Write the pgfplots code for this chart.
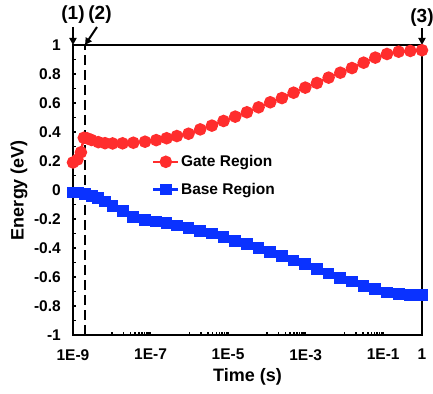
\documentclass[border=0pt]{standalone}
\usepackage{fontspec}
\setmainfont{Liberation Sans}
\usepackage{pgfplots}
\usepackage{pgfplotstable}
\pgfplotsset{compat=1.18}
\usetikzlibrary{arrows.meta}
\definecolor{gred}{RGB}{255,45,45}
\definecolor{bblue}{RGB}{10,50,255}

\pgfplotstableread{
t E
1e-9 0.19
1.3e-9 0.21
1.6e-9 0.26
1.9e-9 0.36
2.3e-9 0.357
3.0e-9 0.345
4.5e-9 0.330
6.7e-9 0.323
1.05e-8 0.321
1.9e-8 0.322
3.6e-8 0.326
7.2e-8 0.333
1.4e-7 0.344
2.6e-7 0.357
4.768e-7 0.372
9.537e-7 0.388
1.907e-6 0.418
3.815e-6 0.444
7.629e-6 0.476
1.526e-5 0.506
3.052e-5 0.536
6.104e-5 0.570
1.221e-4 0.605
2.441e-4 0.634
4.883e-4 0.671
9.766e-4 0.706
1.953e-3 0.738
3.906e-3 0.775
7.813e-3 0.809
1.563e-2 0.841
3.125e-2 0.878
6.25e-2 0.913
0.125 0.938
0.25 0.954
0.5 0.959
1 0.964
}\gatetable

\pgfplotstableread{
t E
1e-9 -0.018
1.37e-9 -0.018
2.04e-9 -0.028
3.03e-9 -0.041
4.49e-9 -0.057
6.68e-9 -0.080
1.05e-8 -0.110
1.91e-8 -0.145
3.58e-8 -0.184
7.18e-8 -0.207
1.38e-7 -0.218
2.6e-7 -0.230
4.768e-7 -0.244
9.537e-7 -0.260
1.907e-6 -0.283
3.815e-6 -0.299
7.629e-6 -0.326
1.526e-5 -0.350
3.052e-5 -0.374
6.104e-5 -0.402
1.221e-4 -0.428
2.441e-4 -0.455
4.883e-4 -0.487
9.766e-4 -0.512
1.953e-3 -0.545
3.906e-3 -0.575
7.813e-3 -0.605
1.563e-2 -0.632
3.125e-2 -0.662
6.25e-2 -0.685
0.125 -0.706
0.25 -0.715
0.5 -0.722
1 -0.724
}\basetable

\begin{document}
\begin{tikzpicture}[x=1bp,y=1bp]
\begin{axis}[
  at={(0,0)}, anchor=south west,
  scale only axis, width=349bp, height=290bp,
  xmode=log, xmin=1e-9, xmax=1, ymin=-1, ymax=1,
  clip=false,
  axis line style={line width=2bp},
  tick align=inside,
  major tick length=3bp, minor tick length=3bp,
  every tick/.style={black, line width=1.5bp},
  xtick={1e-9,1e-7,1e-5,1e-3,1e-1,1},
  xticklabels={1E-9,1E-7,1E-5,1E-3,1E-1,1},
  minor xtick={1e-8,2e-8,3e-8,4e-8,5e-8,6e-8,7e-8,8e-8,9e-8,
               1e-6,2e-6,3e-6,4e-6,5e-6,6e-6,7e-6,8e-6,9e-6,
               1e-4,2e-4,3e-4,4e-4,5e-4,6e-4,7e-4,8e-4,9e-4,
               1e-2,2e-2,3e-2,4e-2,5e-2,6e-2,7e-2,8e-2,9e-2},
  ytick={-1,-0.8,-0.6,-0.4,-0.2,0,0.2,0.4,0.6,0.8,1},
  yticklabels={-1,-0.8,-0.6,-0.4,-0.2,0,0.2,0.4,0.6,0.8,1},
  minor y tick num=1,
  xtick pos=bottom, ytick pos=left,
  /pgf/number format/assume math mode=true,
  ticklabel style={font=\fontsize{15.5bp}{18bp}\selectfont\bfseries},
  yticklabel style={inner sep=0pt, xshift=-12bp},
  xticklabel style={inner sep=0pt, yshift=-14bp},
  xlabel={Time (s)},
  ylabel={Energy (eV)},
  label style={font=\fontsize{18bp}{20bp}\selectfont\bfseries},
  xlabel style={at={(rel axis cs:0.5,0)}, anchor=north, yshift=-33bp, inner sep=0pt},
  ylabel style={at={(rel axis cs:0,0.5)}, anchor=center, yshift=54bp, inner sep=0pt},
  legend style={draw=none, fill=none, at={(rel axis cs:0.226,0.625)}, anchor=north west,
    font=\fontsize{15.5bp}{18bp}\selectfont\bfseries, row sep=12bp, inner sep=0pt,
    nodes={inner sep=1.5bp}},
  legend cell align=left,
  legend image code/.code={\draw[mark repeat=2,mark phase=2] plot coordinates {(0bp,0bp)(12.5bp,0bp)(25bp,0bp)};},
]
\addplot[black, line width=2.2bp, dash pattern=on 10bp off 5bp, forget plot] coordinates {(2.04e-9,-1) (2.04e-9,1)};
\addplot[gred, line width=2.5bp, mark=*, mark size=5bp, mark options={fill=gred, draw=gred}] table[x=t,y=E] {\gatetable};
\addlegendentry{Gate Region}
\addplot[bblue, line width=2.5bp, mark=square*, mark size=4.6bp, mark options={fill=bblue, draw=bblue}] table[x=t,y=E] {\basetable};
\addlegendentry{Base Region}

\node[font=\fontsize{19bp}{21bp}\selectfont\bfseries, anchor=base, inner sep=0pt] at ([yshift=25bp]rel axis cs:0,1) {(1)};
\node[font=\fontsize{19bp}{21bp}\selectfont\bfseries, anchor=base, inner sep=0pt] at ([xshift=27bp,yshift=25bp]rel axis cs:0,1) {(2)};
\node[font=\fontsize{19bp}{21bp}\selectfont\bfseries, anchor=base, inner sep=0pt] at ([yshift=22bp]rel axis cs:1,1) {(3)};
\draw[line width=2bp, -{Triangle[width=7bp,length=7bp]}] ([yshift=18bp]rel axis cs:0,1) -- ([yshift=0bp]rel axis cs:0,1);
\draw[line width=2bp, -{Triangle[width=7bp,length=7bp]}] ([xshift=24bp,yshift=18bp]rel axis cs:0,1) -- ([xshift=12bp,yshift=0bp]rel axis cs:0,1);
\draw[line width=2bp, -{Triangle[width=7bp,length=7bp]}] ([yshift=17bp]rel axis cs:1,1) -- ([yshift=0bp]rel axis cs:1,1);
\end{axis}
\pgfresetboundingbox
\path[use as bounding box] (-73bp,-59bp) rectangle (360bp,335bp);
\end{tikzpicture}
\end{document}
